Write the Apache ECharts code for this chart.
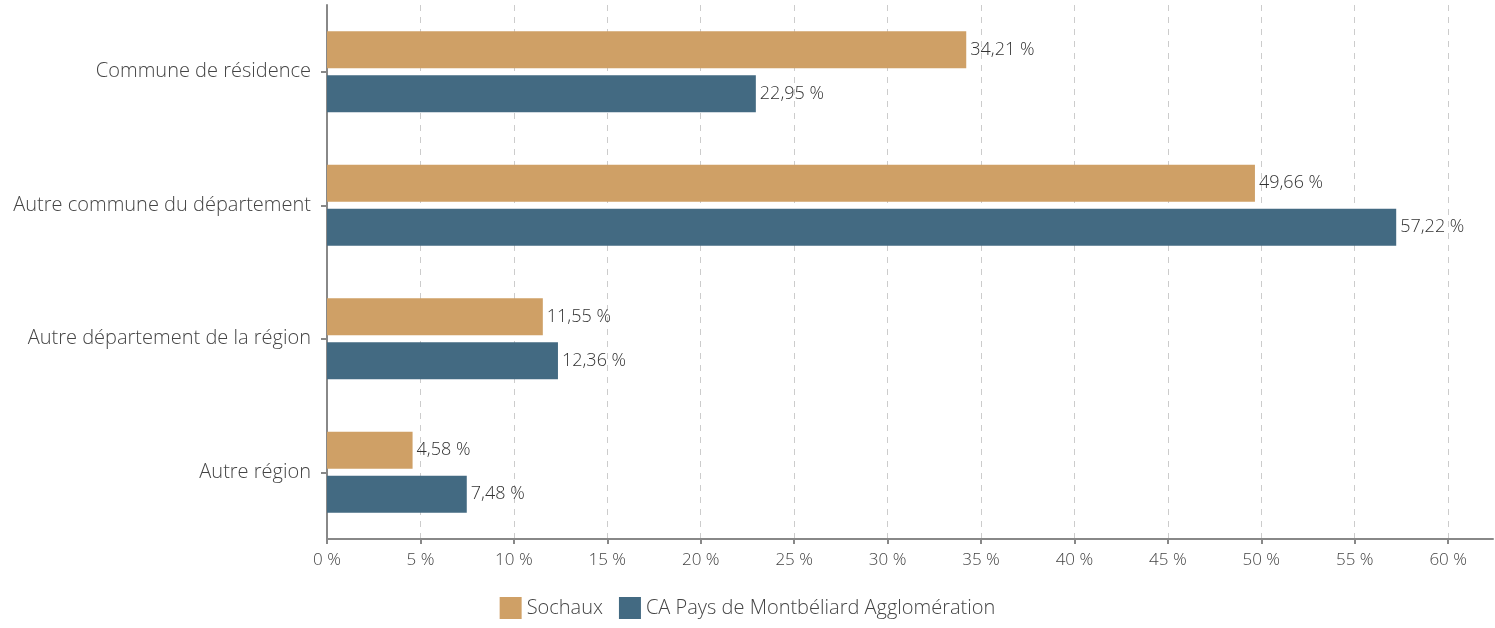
<!DOCTYPE html>
<html>
<head>
<meta charset="utf-8">
<script src="https://cdn.jsdelivr.net/npm/echarts@6/dist/echarts.min.js"></script>
<style>
  html, body { margin: 0; padding: 0; background: #fff; }
  #chart { width: 1495px; height: 628px; }
</style>
</head>
<body>
<div id="chart"></div>
<script>
// catégories (de haut en bas)
const categories = ['Commune de résidence', 'Autre commune du département', 'Autre département de la région', 'Autre région'];

// séries
const seriesNames = ['Sochaux', 'CA Pays de Montbéliard Agglomération'];
const sochauxValues = [34.21, 49.66, 11.55, 4.58];
const caValues = [22.95, 57.22, 12.36, 7.48];

// graduations de l'axe des x
const xTicks = [0, 5, 10, 15, 20, 25, 30, 35, 40, 45, 50, 55, 60];

const colors = ['#CFA066', '#436A82'];
const fontFamily = '"Open Sans", "Noto Sans", sans-serif';

function fmtPct(v) {
    return String(v).replace('.', ',') + ' %';
}

const chart = echarts.init(document.getElementById('chart'));

const labelStyle = {
    show: true,
    position: 'right',
    distance: 4,
    color: '#333',
    fontSize: 18,
    fontWeight: 300,
    fontFamily: fontFamily,
    formatter: p => fmtPct(p.value.toFixed(2))
};

chart.setOption({
    backgroundColor: '#fff',
    animation: false,
    color: colors,
    grid: {
        left: 327,
        right: 2,
        top: 5,
        bottom: 89
    },
    legend: {
        bottom: 4,
        left: 'center',
        itemWidth: 22,
        itemHeight: 22,
        itemGap: 16,
        icon: 'rect',
        textStyle: {
            color: '#444',
            fontSize: 20,
            fontWeight: 300,
            fontFamily: fontFamily
        },
        data: seriesNames
    },
    xAxis: {
        type: 'value',
        min: 0,
        max: 62.4,
        interval: 5,
        axisLine: { show: true, lineStyle: { color: '#888', width: 2 } },
        axisTick: { show: true, length: 5, lineStyle: { color: '#888', width: 2 }, customValues: xTicks },
        axisLabel: {
            customValues: xTicks,
            formatter: v => v + ' %',
            color: '#444',
            fontSize: 17,
            fontWeight: 300,
            fontFamily: fontFamily,
            margin: 13
        },
        splitLine: { show: true, lineStyle: { color: '#ccc', type: [6, 6], width: 1 } }
    },
    yAxis: {
        type: 'category',
        inverse: true,
        data: categories,
        axisLine: { show: true, lineStyle: { color: '#888', width: 2 } },
        axisTick: { show: true, alignWithLabel: true, length: 6, lineStyle: { color: '#888', width: 2 } },
        axisLabel: {
            color: '#444',
            fontSize: 20,
            fontWeight: 300,
            fontFamily: fontFamily,
            margin: 16
        }
    },
    series: [
        {
            name: seriesNames[0],
            type: 'bar',
            data: sochauxValues,
            barWidth: 37,
            barGap: '19%',
            label: labelStyle
        },
        {
            name: seriesNames[1],
            type: 'bar',
            data: caValues,
            barWidth: 37,
            barGap: '19%',
            label: labelStyle
        }
    ]
});
</script>
</body>
</html>
